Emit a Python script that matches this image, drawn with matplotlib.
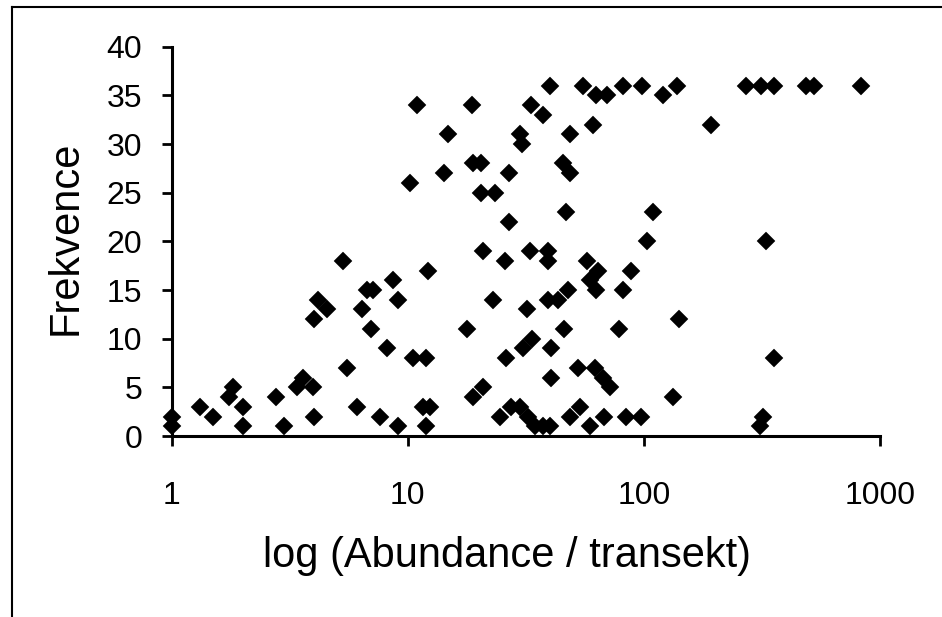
import matplotlib
matplotlib.use("Agg")
import matplotlib.pyplot as plt
from matplotlib.ticker import FixedLocator, FixedFormatter, NullLocator
from matplotlib.lines import Line2D

plt.rcParams['font.family'] = ['Liberation Sans', 'DejaVu Sans']

# Data
abundance = [
    1, 1, 1.32, 1.5, 1.76, 1.82, 2.0, 2.0, 2.78, 3.0,
    3.39, 3.61, 3.96, 4.0, 4.0, 4.18, 4.54, 5.33, 5.55, 6.08,
    6.38, 6.74, 7.15, 6.97, 7.63, 8.14, 8.68, 9.12, 9.12, 10.2,
    10.97, 10.5, 12.0, 12.2, 11.6, 12.4, 12.0, 14.2, 14.8, 17.9,
    18.8, 18.9, 20.5, 20.5, 23.4, 20.9, 18.9, 20.9, 22.9, 25.8,
    26.9, 26.8, 24.6, 26.2, 27.5, 29.8, 32.4, 34.5, 37.4, 40.0,
    29.8, 30.4, 33.4, 37.4, 40.0, 32.9, 31.9, 39.3, 39.3, 30.8,
    33.5, 40.6, 40.6, 39.3, 43.3, 47.8, 45.9, 46.7, 45.5, 48.6,
    48.6, 48.6, 53.6, 52.7, 55.3, 62.0, 67.2, 71.8, 59.0, 67.6,
    84.4, 97.7, 57.5, 64.0, 59.0, 63.0, 88.6, 81.7, 78.6, 103,
    61.0, 63.0, 69.5, 81.7, 98.7, 121, 138, 192, 272, 312,
    355, 488, 524, 834, 109, 330, 141, 355, 133, 320,
    309,
]
frekvence = [
    2, 1, 3, 2, 4, 5, 3, 1, 4, 1,
    5, 6, 5, 2, 12, 14, 13, 18, 7, 3,
    13, 15, 15, 11, 2, 9, 16, 14, 1, 26,
    34, 8, 8, 17, 3, 3, 1, 27, 31, 11,
    34, 28, 28, 25, 25, 19, 4, 5, 14, 18,
    27, 22, 2, 8, 3, 3, 2, 1, 1, 1,
    31, 30, 34, 33, 36, 19, 13, 19, 18, 9,
    10, 9, 6, 14, 14, 15, 11, 23, 28, 27,
    31, 2, 3, 7, 36, 7, 6, 5, 1, 2,
    2, 2, 18, 17, 16, 15, 17, 15, 11, 20,
    32, 35, 35, 36, 36, 35, 36, 32, 36, 36,
    36, 36, 36, 36, 23, 20, 12, 8, 4, 2,
    1,
]
x_ticks = [1, 10, 100, 1000]
x_tick_labels = ['1', '10', '100', '1000']
y_ticks = [0, 5, 10, 15, 20, 25, 30, 35, 40]
x_label = 'log (Abundance / transekt)'
y_label = 'Frekvence'

W, H = 942, 617
fig = plt.figure(figsize=(W / 100, H / 100), dpi=100)
left, right, top, bottom = 171.5, 880.0, 46.7, 436.0
ax = fig.add_axes([left / W, 1 - bottom / H, (right - left) / W, (bottom - top) / H])

ax.plot(abundance, frekvence, linestyle='none', marker='D', markersize=9.6,
        markerfacecolor='black', markeredgecolor='black', markeredgewidth=0.3,
        clip_on=False, zorder=3)

ax.set_xscale('log')
ax.set_xlim(1, 1000)
ax.set_ylim(0, 40)
ax.xaxis.set_major_locator(FixedLocator(x_ticks))
ax.xaxis.set_major_formatter(FixedFormatter(x_tick_labels))
ax.xaxis.set_minor_locator(NullLocator())
ax.set_yticks(y_ticks)
ax.set_yticklabels([str(v) for v in y_ticks])

for s in ['top', 'right']:
    ax.spines[s].set_visible(False)
for s in ['left', 'bottom']:
    ax.spines[s].set_linewidth(2.2)
    ax.spines[s].set_color('black')

ax.tick_params(axis='y', direction='out', length=7.2, width=2.0, pad=14,
               labelsize=23, colors='black')
ax.tick_params(axis='x', direction='out', length=7.5, width=2.0, pad=25,
               labelsize=23, colors='black')

fig.text(263 / W, 1 - 566.7 / H, x_label, fontsize=30, ha='left', va='baseline')
fig.text(65.5 / W, 1 - 238 / H, y_label, fontsize=30, rotation=90,
         ha='center', va='center')

# outer frame (left and top edges visible)
fx, fy = 12.3 / W, 1 - 7.3 / H
fig.add_artist(Line2D([fx, fx], [0, fy], transform=fig.transFigure,
                      color='black', linewidth=1.5))
fig.add_artist(Line2D([fx, 1], [fy, fy], transform=fig.transFigure,
                      color='black', linewidth=1.5))

fig.savefig('out.png', dpi=100, facecolor='white')
